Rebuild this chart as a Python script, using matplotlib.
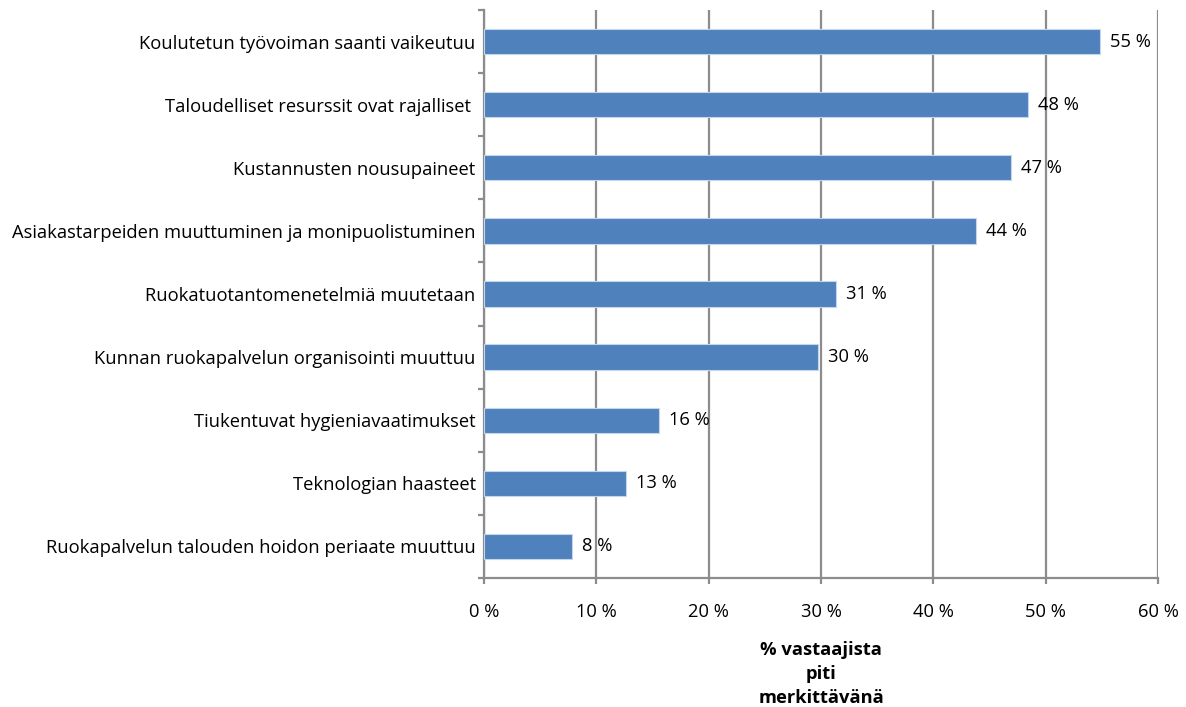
import matplotlib
matplotlib.use("Agg")
import matplotlib.pyplot as plt
from matplotlib import font_manager

categories = [
    "Koulutetun työvoiman saanti vaikeutuu",
    "Taloudelliset resurssit ovat rajalliset ",
    "Kustannusten nousupaineet",
    "Asiakastarpeiden muuttuminen ja monipuolistuminen",
    "Ruokatuotantomenetelmiä muutetaan",
    "Kunnan ruokapalvelun organisointi muuttuu",
    "Tiukentuvat hygieniavaatimukset",
    "Teknologian haasteet",
    "Ruokapalvelun talouden hoidon periaate muuttuu",
]
values = [54.8, 48.4, 46.9, 43.8, 31.3, 29.7, 15.6, 12.6, 7.8]
value_labels = ["55 %", "48 %", "47 %", "44 %", "31 %", "30 %", "16 %", "13 %", "8 %"]
xticks = [0, 10, 20, 30, 40, 50, 60]
xtick_labels = ["0 %", "10 %", "20 %", "30 %", "40 %", "50 %", "60 %"]
xlabel = "% vastaajista\npiti\nmerkittävänä"

avail = {f.name for f in font_manager.fontManager.ttflist}
fam = [f for f in ["Open Sans", "DejaVu Sans"] if f in avail]
plt.rcParams["font.family"] = fam

FS = 13.2

fig = plt.figure(figsize=(11.86, 7.07), dpi=100)
ax = fig.add_axes([484 / 1186, 1 - 578 / 707, (1158 - 484) / 1186, (578 - 10) / 707])

n = len(categories)
ypos = list(range(n))[::-1]
ax.barh(ypos, values, height=0.4, color="#4f81bd", edgecolor="#c6d6ea", linewidth=0.8, zorder=3)
for y, v, lab in zip(ypos, values, value_labels):
    ax.text(v + 0.9, y, lab, va="center", ha="left", fontsize=FS, color="black", zorder=4)

ax.set_xlim(0, 60)
ax.set_ylim(-0.5, n - 0.5)
ax.set_xticks(xticks)
ax.set_xticklabels(xtick_labels, fontsize=FS)
ax.set_yticks(ypos)
ax.set_yticklabels(categories, fontsize=FS)
ax.tick_params(axis="y", length=0, pad=6)
ax.tick_params(axis="x", length=4, width=1.6, color="#8c8c8c", pad=14, direction="out")
ax.set_yticks([i - 0.5 for i in range(n + 1)], minor=True)
ax.tick_params(axis="y", which="minor", length=4, width=1.6, color="#8c8c8c", direction="out")

ax.grid(axis="x", color="#8c8c8c", linewidth=1.6, zorder=0)
for s in ["top", "right"]:
    ax.spines[s].set_visible(False)
for s in ["left", "bottom"]:
    ax.spines[s].set_color("#8c8c8c")
    ax.spines[s].set_linewidth(1.6)

fig.text((484 + 1158) / 2 / 1186, 1 - 674 / 707, xlabel, ha="center", va="center",
         fontsize=FS, fontweight="bold", linespacing=1.45)

fig.savefig("out.png", dpi=100)
